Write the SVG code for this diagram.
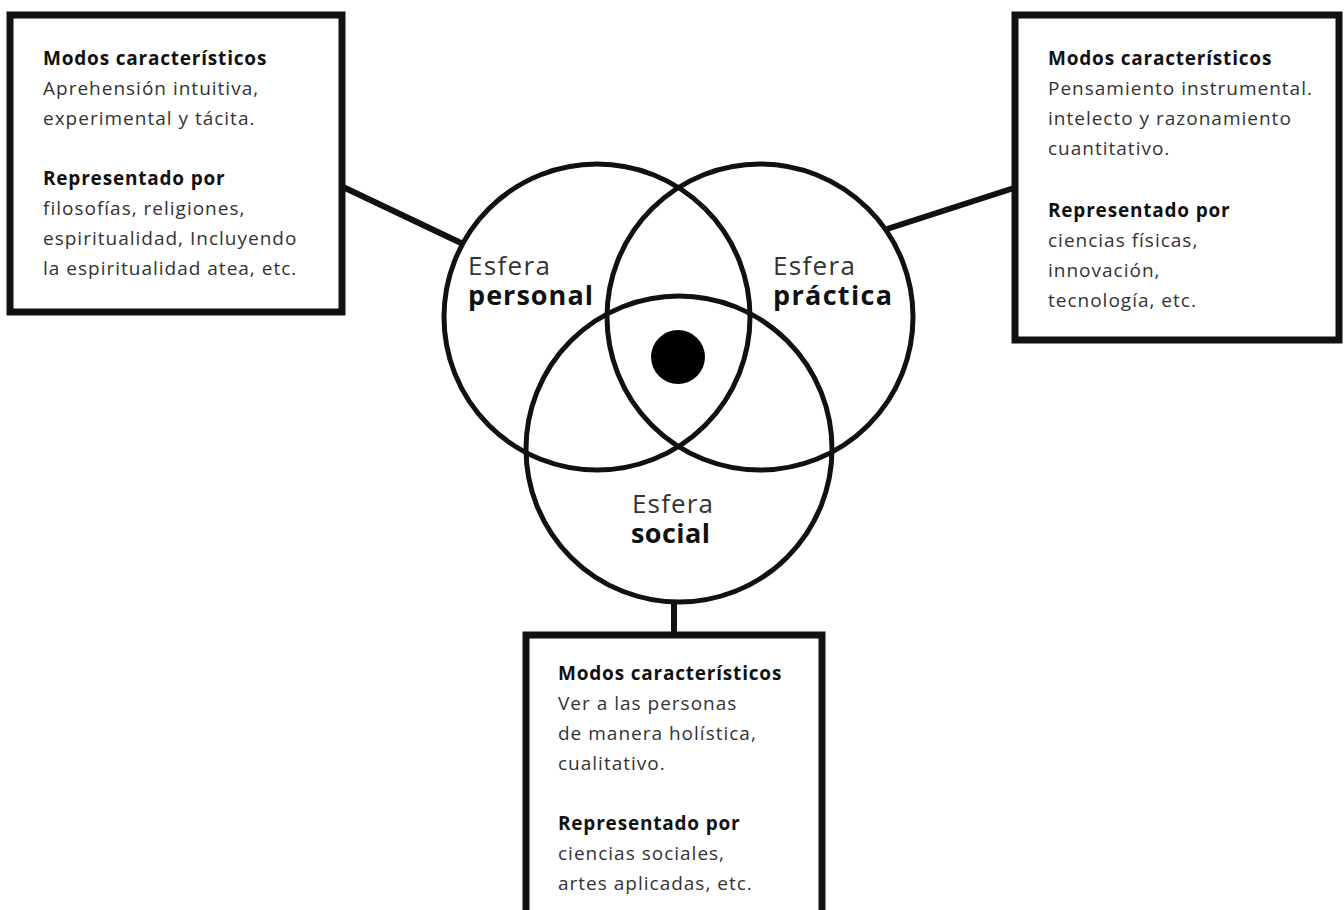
<svg xmlns="http://www.w3.org/2000/svg" width="1344" height="910" viewBox="0 0 1344 910">
<style>
.box{fill:#fff;stroke:#111;stroke-width:7}
.ring{fill:none;stroke:#111;stroke-width:5}
.conn{stroke:#111;stroke-width:6;fill:none}
.t{font-family:"Open Sans","Liberation Sans",sans-serif;font-size:19px;letter-spacing:1px;fill:#333}
.b{font-family:"Open Sans","Liberation Sans",sans-serif;font-size:19px;letter-spacing:0.8px;font-weight:700;fill:#111}
.lr{font-family:"Open Sans","Liberation Sans",sans-serif;font-size:26px;fill:#333}
.lb{font-family:"Open Sans","Liberation Sans",sans-serif;font-size:27px;font-weight:700;fill:#111}
</style>
<rect width="1344" height="910" fill="#fff"/>
<g id="connectors">
<line class="conn" x1="343" y1="187" x2="461" y2="243"/>
<line class="conn" x1="887" y1="229" x2="1014" y2="188"/>
<line class="conn" x1="674" y1="602" x2="674" y2="634"/>
</g>
<g id="venn">
<g id="sphere-personal">
<circle class="ring" cx="597" cy="317" r="153"/>
<text class="lr" x="468" y="275" textLength="82" lengthAdjust="spacing">Esfera</text>
<text class="lb" x="468" y="305" textLength="125" lengthAdjust="spacing">personal</text>
</g>
<g id="sphere-practica">
<circle class="ring" cx="760" cy="317" r="153"/>
<text class="lr" x="773" y="275" textLength="82" lengthAdjust="spacing">Esfera</text>
<text class="lb" x="773" y="305" textLength="119" lengthAdjust="spacing">práctica</text>
</g>
<g id="sphere-social">
<circle class="ring" cx="679" cy="449" r="153"/>
<text class="lr" x="632" y="513" textLength="81" lengthAdjust="spacing">Esfera</text>
<text class="lb" x="631" y="543" textLength="79" lengthAdjust="spacing">social</text>
</g>
<circle id="center-dot" cx="678" cy="357" r="27" fill="#000"/>
</g>
<g id="box-personal">
<rect class="box" x="10" y="15" width="332" height="297"/>
<text class="b" x="43" y="65">Modos característicos</text>
<text class="t" x="43" y="95">Aprehensión intuitiva,</text>
<text class="t" x="43" y="125">experimental y tácita.</text>
<text class="b" x="43" y="185">Representado por</text>
<text class="t" x="43" y="215">filosofías, religiones,</text>
<text class="t" x="43" y="245">espiritualidad, Incluyendo</text>
<text class="t" x="43" y="275">la espiritualidad atea, etc.</text>
</g>
<g id="box-practica">
<rect class="box" x="1015" y="15" width="324" height="325"/>
<text class="b" x="1048" y="65">Modos característicos</text>
<text class="t" x="1048" y="95">Pensamiento instrumental.</text>
<text class="t" x="1048" y="125">intelecto y razonamiento</text>
<text class="t" x="1048" y="155">cuantitativo.</text>
<text class="b" x="1048" y="217">Representado por</text>
<text class="t" x="1048" y="247">ciencias físicas,</text>
<text class="t" x="1048" y="277">innovación,</text>
<text class="t" x="1048" y="307">tecnología, etc.</text>
</g>
<g id="box-social">
<rect class="box" x="526" y="635" width="296" height="300"/>
<text class="b" x="558" y="680">Modos característicos</text>
<text class="t" x="558" y="710">Ver a las personas</text>
<text class="t" x="558" y="740">de manera holística,</text>
<text class="t" x="558" y="770">cualitativo.</text>
<text class="b" x="558" y="830">Representado por</text>
<text class="t" x="558" y="860">ciencias sociales,</text>
<text class="t" x="558" y="890">artes aplicadas, etc.</text>
</g>
</svg>
